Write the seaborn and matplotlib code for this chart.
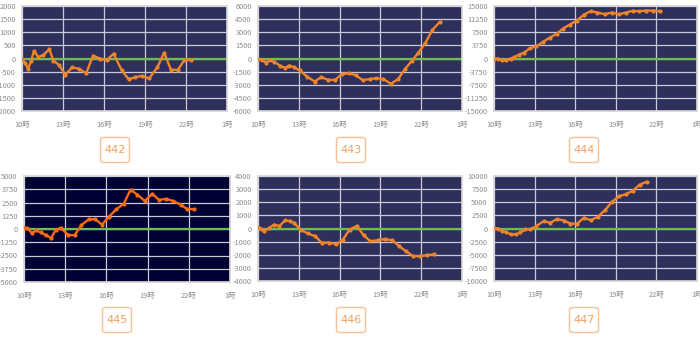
import matplotlib
matplotlib.use("Agg")
import matplotlib.pyplot as plt
import seaborn as sns
import pandas as pd
from matplotlib.patches import FancyBboxPatch

sns.set_theme(style="white")
plt.rcParams['font.family'] = ['Noto Sans CJK JP', 'DejaVu Sans']

# ---- data ----
names = ["442", "443", "444", "445", "446", "447"]

h442 = [10.0, 10.22, 10.44, 10.66, 10.88, 11.2, 11.57, 12.0, 12.3, 12.7, 13.17, 13.66, 14.15, 14.7,
        15.2, 15.7, 16.2, 16.7, 17.3, 17.8, 18.3, 18.8, 19.3, 19.9, 20.4, 20.9, 21.4, 21.9, 22.4]
v442 = [0, -180, -390, -110, 290, 50, 140, 350, -80, -240, -620, -340, -390, -560,
        110, 0, -60, 180, -450, -790, -710, -660, -760, -340, 220, -430, -430, -50, -60]

h443 = [10.0, 10.27, 10.6, 10.88, 11.2, 11.6, 11.98, 12.3, 12.63, 13.07, 13.6, 14.17, 14.65, 15.15,
        15.66, 16.17, 16.68, 17.17, 17.7, 18.2, 18.68, 19.2, 19.76, 20.3, 20.8, 21.31, 21.78, 22.3, 22.83, 23.37]
v443 = [0, -150, -460, -150, -380, -800, -1070, -800, -990, -1370, -2060, -2630, -2130, -2440,
        -2440, -1790, -1680, -1900, -2480, -2360, -2250, -2320, -2890, -2360, -1220, -270, 650, 1750, 3270, 4190]

h444 = [10.0, 10.3, 10.61, 10.9, 11.22, 11.5, 11.87, 12.24, 12.65, 13.1, 13.59, 14.13, 14.62, 15.11,
        15.6, 16.1, 16.65, 17.15, 17.64, 18.18, 18.7, 19.26, 19.75, 20.24, 20.75, 21.25, 21.74, 22.25]
v444 = [0, 0, -570, -570, 0, 380, 1140, 1710, 2950, 3430, 4660, 6000, 7050, 8570,
        9710, 10760, 12570, 13520, 13140, 12660, 13140, 12660, 13140, 13620, 13520, 13710, 13710, 13520]

h445 = [10.0, 10.24, 10.56, 10.88, 11.22, 11.61, 11.98, 12.32, 12.68, 13.2, 13.68, 14.17, 14.71, 15.2,
        15.68, 16.17, 16.73, 17.27, 17.76, 18.24, 18.8, 19.34, 19.83, 20.37, 20.88, 21.41, 21.85, 22.39]
v445 = [100, 100, -380, -130, -320, -600, -850, -60, 100, -540, -600, 350, 920, 920,
        410, 1140, 1860, 2400, 3700, 3250, 2650, 3320, 2750, 2840, 2620, 2310, 1900, 1870]

h446 = [10.0, 10.2, 10.47, 10.84, 11.18, 11.57, 11.99, 12.36, 12.65, 13.14, 13.66, 14.2, 14.69, 15.23,
        15.75, 16.24, 16.73, 17.27, 17.76, 18.26, 18.82, 19.31, 19.85, 20.39, 20.88, 21.4, 21.89, 22.43, 22.92]
v446 = [130, 0, -180, 50, 300, 180, 610, 580, 430, -100, -380, -580, -1090, -1070,
        -1190, -860, -80, 200, -510, -970, -890, -810, -890, -1350, -1730, -2110, -2110, -2030, -1980]

h447 = [10.0, 10.3, 10.61, 10.9, 11.22, 11.65, 11.94, 12.31, 12.68, 13.12, 13.66, 14.15, 14.64, 15.16,
        15.65, 16.14, 16.63, 17.17, 17.66, 18.2, 18.72, 19.26, 19.75, 20.24, 20.78, 21.27]
v447 = [130, 0, -510, -700, -1080, -1140, -760, -190, -130, 440, 1400, 1080, 1780, 1520,
        950, 890, 2030, 1590, 2220, 3490, 5080, 6160, 6540, 7170, 8380, 8890]

hours_all = [h442, h443, h444, h445, h446, h447]
vals_all = [v442, v443, v444, v445, v446, v447]
ylims = [2000, 6000, 15000, 5000, 4000, 10000]
xtick_pos = [10, 13, 16, 19, 22, 25]
xtick_lab = ["10時", "13時", "16時", "19時", "22時", "1時"]

# ---- layout (pixels) ----
W, H = 700, 338
rects = [(22, 6, 227, 111), (258, 6, 462, 111), (494, 6, 697, 111),
         (24, 176, 230, 282), (258, 176, 462, 281), (494, 176, 697, 281)]
boxes = [(115, 150), (351, 150), (584, 150), (117, 320), (351, 320), (584, 320)]
bgs = ["#2f2f5b", "#2f2f5b", "#2f2f5b", "#000033", "#2f2f5b", "#2f2f5b"]
lcols = ["#f0842a", "#f0842a", "#f0842a", "#ff6a10", "#f0842a", "#f0842a"]

fig = plt.figure(figsize=(W / 100, H / 100), dpi=100)
fig.patch.set_facecolor("white")

for i in range(6):
    l, t, r, b = rects[i]
    ax = fig.add_axes([l / W, 1 - b / H, (r - l) / W, (b - t) / H])
    ax.set_facecolor(bgs[i])
    lim = ylims[i]
    df = pd.DataFrame({"hour": hours_all[i], "value": vals_all[i]})
    ax.axhline(0, color="#6cc04a", lw=1.6, zorder=2)
    sns.lineplot(data=df, x="hour", y="value", ax=ax, color=lcols[i], lw=1.7,
                 marker="o", markersize=3.0, markeredgewidth=0, zorder=3)
    ax.set_xlim(10, 25)
    ax.set_ylim(-lim, lim)
    yt = [-lim + k * lim / 4 for k in range(9)]
    ax.set_yticks(yt)
    ax.set_yticklabels([f"{int(round(v))}" for v in yt])
    ax.set_xticks(xtick_pos)
    ax.set_xticklabels(xtick_lab)
    ax.grid(True, color="#c9c9d6", lw=0.9)
    ax.set_axisbelow(True)
    ax.set_xlabel("")
    ax.set_ylabel("")
    ax.tick_params(axis="both", labelsize=5.3, colors="#8c8c8c", length=2.5, width=0.6, pad=2)
    ax.tick_params(axis="x", pad=5)
    for sp in ax.spines.values():
        sp.set_color("#d6d6d6")
        sp.set_linewidth(1.2)
    # label box
    cx, cy = boxes[i]
    bw, bh = 29, 25
    fig.patches.append(FancyBboxPatch(((cx - bw / 2) / W, 1 - (cy + bh / 2) / H), bw / W, bh / H,
                                      boxstyle="round,pad=0,rounding_size=0.006",
                                      transform=fig.transFigure, facecolor="white",
                                      edgecolor="#f9c196", lw=1.0))
    fig.text(cx / W, 1 - cy / H, names[i], ha="center", va="center", fontsize=8,
             color="#f2a060", family=["DejaVu Sans"])

fig.savefig("out.png", dpi=100)
